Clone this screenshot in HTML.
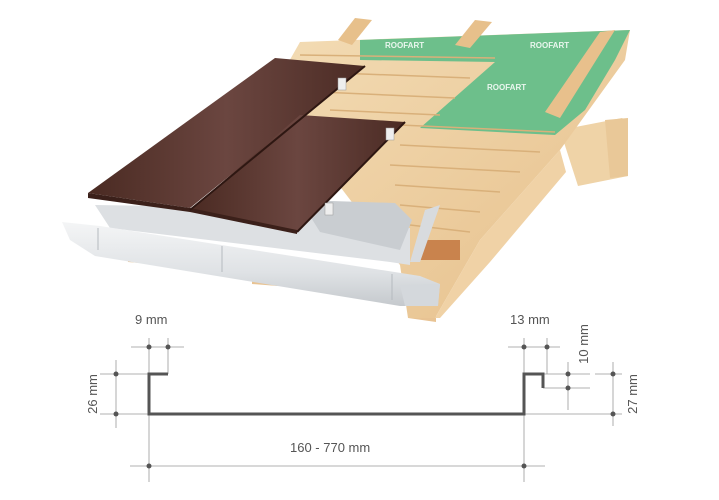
<!DOCTYPE html>
<html><head><meta charset="utf-8"><style>
html,body{margin:0;padding:0;background:#fff;}
svg{display:block}
text{font-family:"Liberation Sans",sans-serif;fill:#555;font-size:13px}
</style></head><body>
<svg width="719" height="500" viewBox="0 0 719 500" xmlns="http://www.w3.org/2000/svg">
<defs>
<linearGradient id="wood" x1="0" y1="0" x2="1" y2="1"><stop offset="0" stop-color="#f3dcb5"/><stop offset="1" stop-color="#e6bf8a"/></linearGradient>
<linearGradient id="brown" x1="0" y1="0" x2="1" y2="0"><stop offset="0" stop-color="#4a2a22"/><stop offset="0.5" stop-color="#6b4640"/><stop offset="1" stop-color="#4b2b24"/></linearGradient>
<linearGradient id="gut" x1="0" y1="0" x2="0" y2="1"><stop offset="0" stop-color="#f4f5f6"/><stop offset="0.6" stop-color="#dfe2e5"/><stop offset="1" stop-color="#c5c9cd"/></linearGradient>
</defs>
<!-- wood blocks under gutter -->
<polygon points="128,252 152,256 152,264 128,262" fill="#e8c393"/>
<polygon points="252,268 278,272 278,286 252,284" fill="#e8c393"/>
<polygon points="408,300 436,304 436,322 408,318" fill="#e8c393"/>
<!-- right beam -->
<polygon points="560,130 622,118 628,122 628,176 578,186" fill="#efd3a7"/>
<polygon points="605,120 628,118 628,176 610,178" fill="#e9c898"/>
<!-- main deck -->
<polygon points="300,42 630,30 625,60 560,150 480,240 435,318 408,318 400,265 270,95" fill="url(#wood)"/>
<!-- front edge -->
<polygon points="480,240 560,150 566,172 490,262 440,318 435,318" fill="#f0d2a6"/>
<!-- green membrane -->
<polygon points="360,40 630,30 615,60 585,110 555,135 420,128 495,62 360,60" fill="#6dbf8b"/>
<text x="385" y="48" style="font-size:8px;fill:#e9f6ee;font-weight:bold">ROOFART</text>
<text x="530" y="48" style="font-size:8px;fill:#e9f6ee;font-weight:bold">ROOFART</text>
<text x="487" y="90" style="font-size:8px;fill:#e9f6ee;font-weight:bold">ROOFART</text>
<!-- counter battens -->
<polygon points="338,40 355,18 372,20 352,45" fill="#e7c08b"/>
<polygon points="455,45 475,20 492,22 470,48" fill="#e7c08b"/>
<polygon points="545,112 600,32 615,30 560,118" fill="#e8c08c"/>
<!-- board lines -->
<g stroke="#d9b07a" stroke-width="1.5" fill="none">
<line x1="300" y1="55" x2="495" y2="58"/><line x1="310" y1="72" x2="470" y2="78"/><line x1="320" y1="92" x2="455" y2="98"/>
<line x1="330" y1="110" x2="440" y2="115"/><line x1="400" y1="125" x2="555" y2="132"/><line x1="400" y1="145" x2="540" y2="152"/>
<line x1="390" y1="165" x2="520" y2="172"/><line x1="395" y1="185" x2="500" y2="192"/><line x1="400" y1="205" x2="480" y2="212"/><line x1="410" y1="225" x2="470" y2="232"/>
</g>
<!-- eave white strip + grey plate -->
<polygon points="95,205 300,208 410,228 410,265 390,262 110,228" fill="#dde0e3"/>
<polygon points="300,200 395,203 412,220 400,250 320,232" fill="#c9cdd1"/>
<!-- brown sheets -->
<polygon points="275,58 365,66 190,208 88,193" fill="url(#brown)"/>
<polygon points="88,193 190,208 190,212 88,198" fill="#3b201a"/>
<polygon points="300,115 405,122 297,232 190,210" fill="url(#brown)"/>
<polygon points="190,208 297,230 297,234 190,212" fill="#3b201a"/>
<line x1="365" y1="66" x2="190" y2="210" stroke="#2e1712" stroke-width="2"/>
<line x1="405" y1="122" x2="297" y2="232" stroke="#2e1712" stroke-width="2"/>
<!-- clips -->
<rect x="338" y="78" width="8" height="12" fill="#eee" stroke="#999" stroke-width="0.5"/>
<rect x="386" y="128" width="8" height="12" fill="#eee" stroke="#999" stroke-width="0.5"/>
<rect x="325" y="203" width="8" height="12" fill="#eee" stroke="#999" stroke-width="0.5"/>
<!-- mesh -->
<rect x="418" y="240" width="42" height="20" fill="#c9834d"/>
<polygon points="425,210 440,205 420,262 410,262" fill="#d8dbde"/>
<!-- gutter -->
<polygon points="62,222 100,226 420,276 440,284 438,306 400,306 95,256 70,240" fill="url(#gut)"/>
<polygon points="400,285 440,284 438,306 405,306" fill="#d4d8dc"/>
<g stroke="#b5babf" stroke-width="1"><line x1="98" y1="228" x2="98" y2="250"/><line x1="222" y1="246" x2="222" y2="272"/><line x1="392" y1="274" x2="392" y2="300"/></g>
<!-- profile drawing -->
<g stroke="#999" stroke-width="0.8">
<line x1="149" y1="338" x2="149" y2="482"/><line x1="168" y1="338" x2="168" y2="374"/>
<line x1="131" y1="347" x2="184" y2="347"/>
<line x1="100" y1="374" x2="149" y2="374"/><line x1="100" y1="414" x2="149" y2="414"/>
<line x1="116" y1="360" x2="116" y2="428"/>
<line x1="130" y1="466" x2="545" y2="466"/>
<line x1="524" y1="338" x2="524" y2="482"/><line x1="547" y1="338" x2="547" y2="374"/>
<line x1="508" y1="347" x2="560" y2="347"/>
<line x1="543" y1="374" x2="590" y2="374"/><line x1="543" y1="388" x2="590" y2="388"/>
<line x1="568" y1="362" x2="568" y2="410"/>
<line x1="595" y1="374" x2="622" y2="374"/><line x1="524" y1="414" x2="622" y2="414"/>
<line x1="613" y1="362" x2="613" y2="426"/>
</g>
<polyline points="168,374 149,374 149,414 524,414 524,374 543,374 543,388" fill="none" stroke="#555" stroke-width="3"/>
<g fill="#555">
<circle cx="149" cy="347" r="2.5"/><circle cx="168" cy="347" r="2.5"/>
<circle cx="116" cy="374" r="2.5"/><circle cx="116" cy="414" r="2.5"/>
<circle cx="149" cy="466" r="2.5"/><circle cx="524" cy="466" r="2.5"/>
<circle cx="524" cy="347" r="2.5"/><circle cx="547" cy="347" r="2.5"/>
<circle cx="568" cy="374" r="2.5"/><circle cx="568" cy="388" r="2.5"/>
<circle cx="613" cy="374" r="2.5"/><circle cx="613" cy="414" r="2.5"/>
</g>
<text x="135" y="324">9 mm</text>
<text x="510" y="324">13 mm</text>
<text x="290" y="452">160 - 770 mm</text>
<text transform="translate(97,394) rotate(-90)" text-anchor="middle">26 mm</text>
<text transform="translate(588,344) rotate(-90)" text-anchor="middle">10 mm</text>
<text transform="translate(637,394) rotate(-90)" text-anchor="middle">27 mm</text>
</svg>
</body></html>
